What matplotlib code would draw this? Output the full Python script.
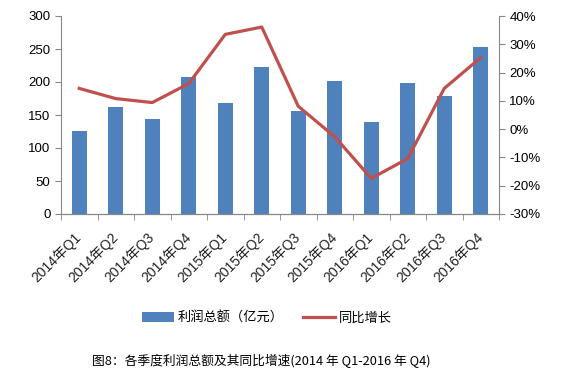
import matplotlib
matplotlib.use("Agg")
import matplotlib.pyplot as plt
from matplotlib.ticker import FuncFormatter, MultipleLocator

plt.rcParams['font.family'] = ['Liberation Sans', 'Noto Sans CJK SC', 'DejaVu Sans']

quarters = ['2014年Q1', '2014年Q2', '2014年Q3', '2014年Q4',
            '2015年Q1', '2015年Q2', '2015年Q3', '2015年Q4',
            '2016年Q1', '2016年Q2', '2016年Q3', '2016年Q4']
profit = [126, 162, 144, 208, 168, 223, 156, 202, 139, 199, 179, 253]
growth = [14.4, 10.8, 9.4, 16.1, 33.5, 36.1, 8.1, -2.7, -17.4, -10.4, 14.4, 25.3]

bar_color = '#4F81BD'
line_color = '#C0504D'
grey = '#868686'

fig = plt.figure(figsize=(5.65, 3.79), dpi=100)
ax = fig.add_axes([61 / 565, 1 - 214 / 379, 438 / 565, 198 / 379])
x = list(range(len(quarters)))
bars = ax.bar(x, profit, width=0.42, color=bar_color, zorder=2)
ax.set_xlim(-0.5, len(quarters) - 0.5)
ax.set_ylim(0, 300)
ax.yaxis.set_major_locator(MultipleLocator(50))

ax2 = ax.twinx()
line, = ax2.plot(x, growth, color=line_color, lw=2.3, zorder=3)
ax2.set_ylim(-30, 40)
ax2.yaxis.set_major_locator(MultipleLocator(10))
ax2.yaxis.set_major_formatter(FuncFormatter(lambda v, p: f'{v:.0f}%'))

for a in (ax, ax2):
    a.spines['top'].set_visible(False)
    for s in ('left', 'right', 'bottom'):
        a.spines[s].set_color(grey)
    a.tick_params(axis='y', colors=grey, labelcolor='black', labelsize=9.5, length=4, direction='out')

ax.spines['right'].set_visible(False)
ax2.spines['left'].set_visible(False)

# category labels centred, tick marks between categories
ax.set_xticks(x)
ax.set_xticklabels(quarters, rotation=45, ha='right', va='center', rotation_mode='anchor',
                   fontsize=10, color='#222222')
ax.set_xticks([i - 0.5 for i in range(len(quarters) + 1)], minor=True)
ax.tick_params(axis='x', which='major', length=0, pad=15)
ax.tick_params(axis='x', which='minor', length=4, color=grey)

fig.legend([bars, line], ['利润总额（亿元）', '同比增长'], loc='center', bbox_to_anchor=(267 / 565, 1 - 318 / 379),
           ncol=2, frameon=False, handlelength=2.4, handletextpad=0.3, columnspacing=1.5,
           prop={'family': ['Noto Sans CJK SC'], 'size': 9.5})

fig.text(261 / 565, 1 - 361 / 379, '图8：各季度利润总额及其同比增速(2014 年 Q1-2016 年 Q4)', ha='center', va='center',
         fontsize=9.2, family=['Noto Sans CJK SC', 'DejaVu Sans'])

fig.savefig('out.png', dpi=100)
